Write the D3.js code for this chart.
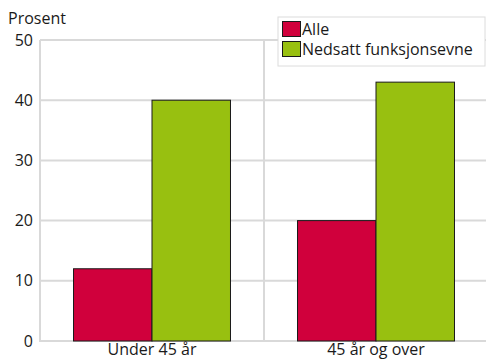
<!DOCTYPE html>
<html>
<head>
<meta charset="utf-8">
<script src="https://cdn.jsdelivr.net/npm/d3@7"></script>
<style>
  html, body { margin: 0; padding: 0; background: #fff; }
  svg text { font-family: "Open Sans", "DejaVu Sans", sans-serif; fill: #1a1a1a; }
</style>
</head>
<body>
<svg id="chart" width="486" height="364"></svg>
<script>
// Age groups and share (%) per group
const categories = ["Under 45 år", "45 år og over"];
const seriesNames = ["Alle", "Nedsatt funksjonsevne"];
const alle = [12, 20];
const nedsatt = [40, 43];
const yTicks = [0, 10, 20, 30, 40, 50];
const colors = ["#d0003c", "#98c010"];

const FONT = '"Open Sans", "DejaVu Sans", sans-serif';
const FS = 16;

const svg = d3.select("#chart");
const margin = { left: 40, right: -2, top: 40, bottom: 23 };
const W = 486, H = 364;

const x = d3.scaleBand().domain(categories).range([margin.left, W - margin.right]).paddingInner(0).paddingOuter(0);
const inner = d3.scaleBand().domain(seriesNames).range([0, x.bandwidth()]).paddingOuter(0.427).paddingInner(0);
const y = d3.scaleLinear().domain([0, 50]).range([H - margin.bottom, margin.top]);

const grid = svg.append("g");
// horizontal gridlines
grid.selectAll("line.h").data(yTicks).join("line")
  .attr("x1", margin.left).attr("x2", W)
  .attr("y1", d => y(d)).attr("y2", d => y(d))
  .attr("stroke", "#d9d9d9").attr("stroke-width", 2);
// vertical lines: left axis and category separator
grid.selectAll("line.v").data([margin.left, x(categories[1])]).join("line")
  .attr("x1", d => d).attr("x2", d => d)
  .attr("y1", y(50)).attr("y2", y(0) + 1)
  .attr("stroke", "#d9d9d9").attr("stroke-width", 2);

// y tick labels
const yAxis = d3.axisLeft(y).tickValues(yTicks).tickSize(0).tickPadding(7);
svg.append("g").attr("transform", `translate(${margin.left},0)`).call(yAxis)
  .call(g => g.select(".domain").remove())
  .call(g => g.selectAll("text").attr("font-size", FS).style("font-family", FONT).attr("fill", "#1a1a1a"));

// x category labels
const xAxis = d3.axisBottom(x).tickSize(0).tickPadding(3);
svg.append("g").attr("transform", `translate(0,${y(0)})`).call(xAxis)
  .call(g => g.select(".domain").remove())
  .call(g => g.selectAll("text").attr("font-size", FS).style("font-family", FONT).attr("fill", "#1a1a1a"));

// bars
const rows = categories.map((c, i) => ({ cat: c, vals: [alle[i], nedsatt[i]] }));
svg.append("g").selectAll("g").data(rows).join("g")
  .attr("transform", d => `translate(${x(d.cat)},0)`)
  .selectAll("rect").data(d => d.vals.map((v, j) => ({ name: seriesNames[j], v, j })))
  .join("rect")
  .attr("x", d => inner(d.name))
  .attr("width", inner.bandwidth())
  .attr("y", d => y(d.v))
  .attr("height", d => y(0) - y(d.v))
  .attr("fill", d => colors[d.j])
  .attr("stroke", "#1a1a1a").attr("stroke-width", 1);

// axis title
svg.append("text").attr("x", 8).attr("y", 24).attr("font-size", FS).text("Prosent");

// legend
const lg = svg.append("g").attr("transform", "translate(278,17)");
lg.append("rect").attr("x", 0).attr("y", 0).attr("width", 207).attr("height", 49)
  .attr("fill", "#fff").attr("stroke", "#dcdcdc").attr("stroke-width", 1);
seriesNames.forEach((n, i) => {
  lg.append("rect").attr("x", 4.5).attr("y", 4.5 + i * 20).attr("width", 18).attr("height", 15)
    .attr("fill", colors[i]).attr("stroke", "#1a1a1a").attr("stroke-width", 1);
  lg.append("text").attr("x", 24).attr("y", 17.5 + i * 20).attr("font-size", FS).text(n);
});
</script>
</body>
</html>
